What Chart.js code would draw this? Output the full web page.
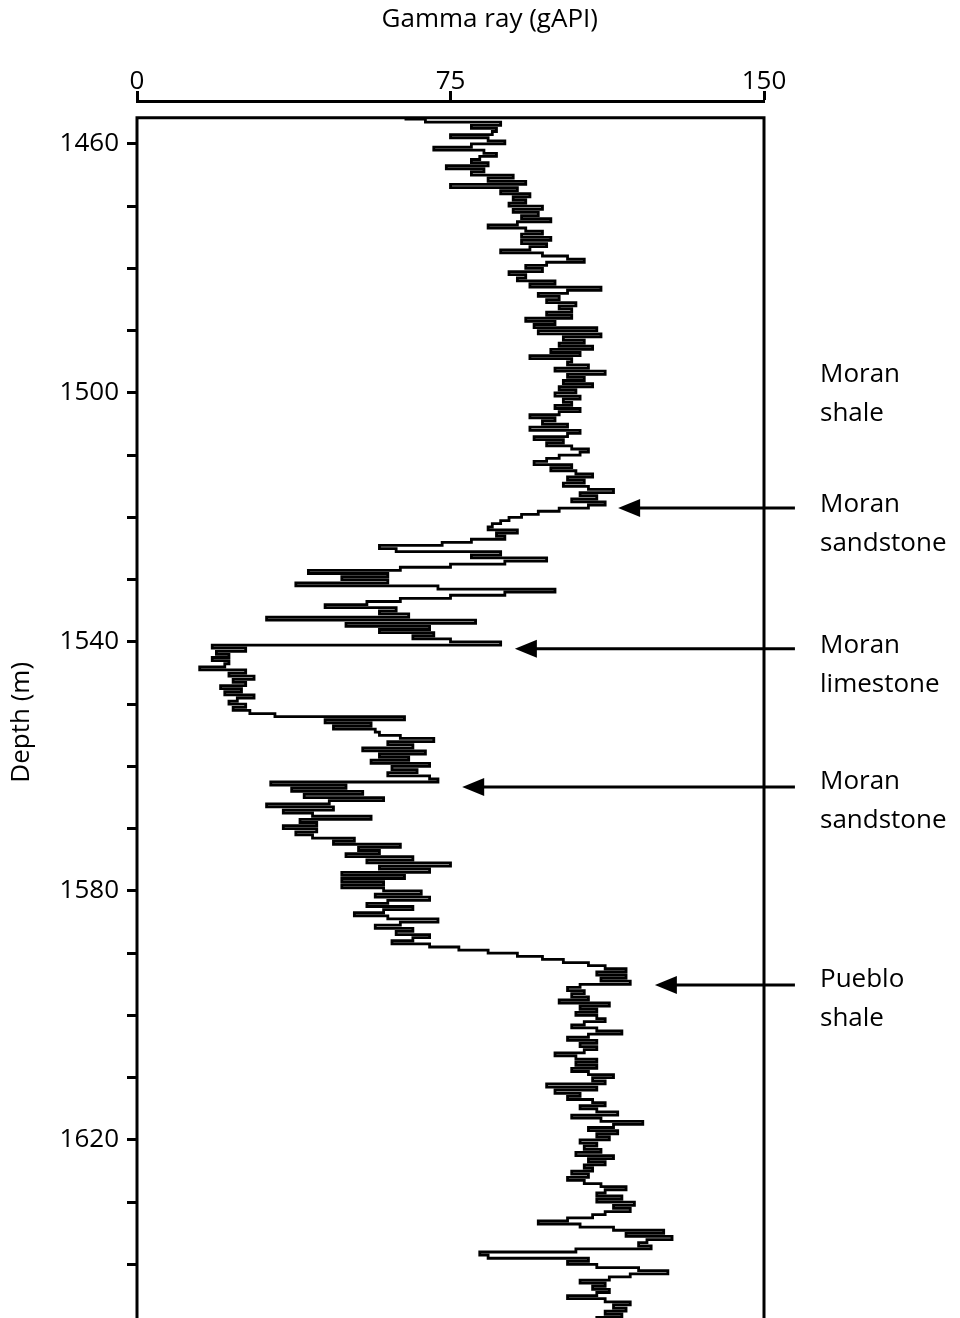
<!DOCTYPE html>
<html>
<head>
<meta charset="utf-8">
<script src="https://cdn.jsdelivr.net/npm/chart.js@4.4.1/dist/chart.umd.min.js"></script>
<style>
  html, body { margin: 0; padding: 0; background: #fff; overflow: hidden; }
</style>
</head>
<body>
<canvas id="grLog" width="960" height="1318"></canvas>
<script>
// gamma ray log, one sample every 0.5 m starting at 1456 m
var depthTop = 1456;
var depthStep = 0.5;
var gamma = [
  64, 69, 87, 80, 86, 85, 75, 84, 88, 80,
  71, 83, 86, 82, 80, 84, 74, 83, 80, 90,
  84, 93, 75, 91, 87, 94, 90, 93, 89, 97,
  90, 96, 92, 99, 91, 84, 93, 97, 92, 99,
  92, 98, 94, 87, 97, 103, 107, 98, 93, 97,
  89, 93, 91, 100, 94, 111, 103, 96, 101, 98,
  105, 101, 104, 98, 104, 93, 100, 95, 110, 96,
  111, 102, 107, 101, 109, 99, 106, 94, 104, 103,
  108, 100, 112, 103, 107, 102, 109, 101, 105, 100,
  106, 102, 104, 100, 106, 101, 94, 100, 97, 103,
  94, 106, 103, 95, 102, 98, 104, 108, 106, 101,
  98, 95, 104, 99, 105, 109, 103, 107, 102, 108,
  114, 106, 110, 104, 112, 108, 101, 96, 92, 89,
  87, 85, 84, 91, 86, 88, 80, 73, 58, 62,
  87, 80, 98, 88, 75, 63, 41, 60, 49, 60,
  38, 72, 100, 88, 75, 63, 55, 45, 62, 58,
  65, 31, 81, 50, 70, 58, 71, 66, 75, 87,
  18, 26, 19, 22, 18, 22, 21, 15, 26, 22,
  28, 23, 26, 20, 25, 21, 28, 24, 22, 26,
  23, 27, 33, 64, 45, 56, 47, 57, 58, 63,
  71, 60, 66, 54, 69, 58, 65, 56, 70, 61,
  67, 60, 70, 72, 32, 50, 37, 54, 40, 59,
  46, 31, 47, 35, 42, 56, 39, 43, 35, 43,
  38, 42, 52, 47, 63, 53, 58, 50, 66, 55,
  75, 58, 70, 49, 64, 49, 59, 49, 59, 68,
  57, 70, 60, 55, 66, 59, 52, 60, 72, 63,
  57, 66, 62, 70, 66, 61, 70, 77, 84, 91,
  97, 102, 108, 112, 117, 110, 117, 111, 118, 106,
  103, 107, 104, 108, 101, 113, 106, 110, 105, 110,
  112, 107, 104, 110, 116, 108, 103, 110, 106, 110,
  107, 100, 105, 110, 105, 110, 104, 108, 114, 109,
  112, 98, 110, 100, 106, 103, 109, 112, 106, 110,
  115, 104, 111, 121, 114, 108, 115, 110, 113, 106,
  110, 107, 111, 105, 114, 108, 112, 107, 109, 104,
  108, 103, 107, 111, 117, 112, 110, 116, 110, 119,
  114, 118, 112, 109, 103, 96, 106, 114, 126, 117,
  128, 122, 120, 123, 105, 82, 84, 108, 103, 110,
  120, 127, 118, 113, 106, 112, 109, 113, 110, 103,
  112, 118, 114, 117, 112, 116, 110
];

var gammaTicks = [0, 75, 150];
var depthTicks = [1460, 1470, 1480, 1490, 1500, 1510, 1520, 1530, 1540, 1550,
                  1560, 1570, 1580, 1590, 1600, 1610, 1620, 1630, 1640];
var depthLabels = [1460, 1500, 1540, 1580, 1620];

// formation names, where the label sits and where its arrow points
var unitNames = [['Moran', 'shale'], ['Moran', 'sandstone'], ['Moran', 'limestone'],
                 ['Moran', 'sandstone'], ['Pueblo', 'shale']];
var unitLabelDepth = [1497.1, 1518.0, 1540.6, 1562.5, 1594.3];
var arrowDepth = [null, 1518.5, 1541.1, 1563.3, 1595.1];
var arrowTipGamma = [null, 115.1, 90.4, 77.8, 123.9];

var FONT = 'Open Sans';
var points = gamma.map(function (g, i) {
  return { x: g, y: depthTop + i * depthStep };
});

var framePlugin = {
  id: 'logFrame',
  afterDatasetsDraw: function (chart) {
    var ctx = chart.ctx, xs = chart.scales.x, ys = chart.scales.y;
    var top = ys.getPixelForValue(1455.8);
    var l = xs.getPixelForValue(0), r = xs.getPixelForValue(150);
    var b = chart.chartArea.bottom + 10;
    ctx.save();
    ctx.strokeStyle = '#000';
    ctx.lineWidth = 3;
    ctx.beginPath();
    ctx.moveTo(l, b);
    ctx.lineTo(l, top);
    ctx.lineTo(r, top);
    ctx.lineTo(r, b);
    ctx.stroke();
    ctx.restore();
  },
  afterDraw: function (chart) {
    var ctx = chart.ctx, xs = chart.scales.x, ys = chart.scales.y;
    ctx.save();
    ctx.fillStyle = '#000';
    ctx.strokeStyle = '#000';
    ctx.font = '26px "' + FONT + '"';
    ctx.textBaseline = 'middle';

    // axis titles
    ctx.textAlign = 'center';
    ctx.fillText('Gamma ray (gAPI)', xs.getPixelForValue(84.4), 20);
    ctx.save();
    ctx.translate(22, ys.getPixelForValue(1552.9));
    ctx.rotate(-Math.PI / 2);
    ctx.fillText('Depth (m)', 0, 0);
    ctx.restore();

    ctx.textAlign = 'left';
    var textX = xs.getPixelForValue(163.4);
    var tailX = xs.getPixelForValue(157.4);
    unitNames.forEach(function (lines, i) {
      var y0 = ys.getPixelForValue(unitLabelDepth[i]);
      lines.forEach(function (t, k) {
        ctx.fillText(t, textX, y0 + k * 39);
      });
      if (arrowDepth[i] === null) return;
      var ay = ys.getPixelForValue(arrowDepth[i]);
      var tip = xs.getPixelForValue(arrowTipGamma[i]);
      ctx.lineWidth = 3;
      ctx.beginPath();
      ctx.moveTo(tailX, ay);
      ctx.lineTo(tip + 18, ay);
      ctx.stroke();
      ctx.beginPath();
      ctx.moveTo(tip, ay);
      ctx.lineTo(tip + 22, ay - 9);
      ctx.lineTo(tip + 22, ay + 9);
      ctx.closePath();
      ctx.fill();
    });
    ctx.restore();
  }
};

var chart = new Chart(document.getElementById('grLog').getContext('2d'), {
  type: 'scatter',
  data: {
    datasets: [{
      data: points,
      showLine: true,
      stepped: true,
      borderColor: '#000',
      borderWidth: 2.8,
      pointRadius: 0,
      fill: false
    }]
  },
  options: {
    responsive: false,
    animation: false,
    devicePixelRatio: 1,
    layout: { padding: { top: 0, left: 0, right: 196, bottom: 0 } },
    plugins: { legend: { display: false }, tooltip: { enabled: false } },
    scales: {
      x: {
        type: 'linear',
        position: 'top',
        min: 0,
        max: 150,
        afterFit: function (s) { s.height = 101; s.paddingLeft = 0; s.paddingRight = 0; },
        afterBuildTicks: function (s) {
          s.ticks = gammaTicks.map(function (v) { return { value: v }; });
        },
        border: { display: true, color: '#000', width: 3 },
        grid: { drawOnChartArea: false, tickLength: 10, tickWidth: 3, color: '#000' },
        ticks: { color: '#000', font: { family: FONT, size: 26 }, padding: -6, maxRotation: 0, autoSkip: false }
      },
      y: {
        type: 'linear',
        reverse: true,
        min: 1453.1,
        max: 1648.6,
        afterFit: function (s) { s.width = 137; s.paddingTop = 0; s.paddingBottom = 0; },
        afterBuildTicks: function (s) {
          s.ticks = depthTicks.map(function (v) { return { value: v }; });
        },
        border: { display: false },
        grid: { drawOnChartArea: false, tickLength: 10, tickWidth: 3, color: '#000' },
        ticks: {
          color: '#000',
          font: { family: FONT, size: 26 },
          padding: 8,
          autoSkip: false,
          callback: function (v) { return depthLabels.indexOf(v) >= 0 ? String(v) : ''; }
        },
        title: { display: false }
      }
    }
  },
  plugins: [framePlugin]
});
</script>
</body>
</html>
